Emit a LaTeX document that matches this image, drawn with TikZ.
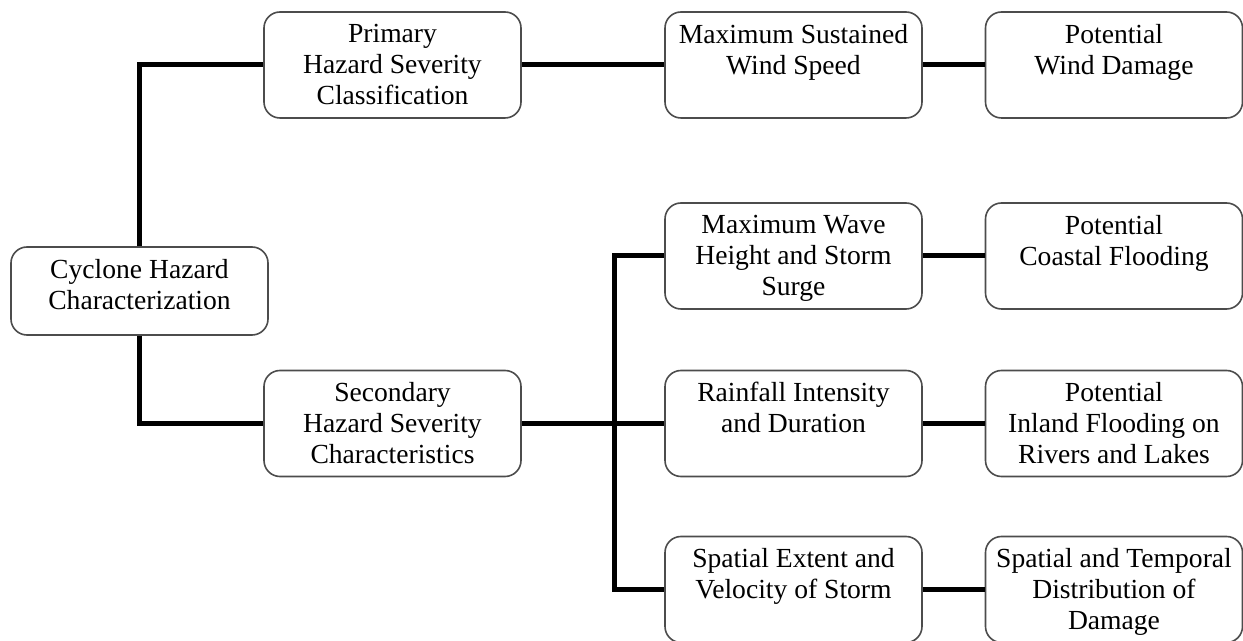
\documentclass[tikz,border=0pt]{standalone}
\usepackage{fontspec}
\setmainfont{Liberation Serif}
\newcommand{\boxtxt}[2][53pt]{\parbox[c][#1][t]{128.5pt}{\centering\vspace*{6pt}#2}}

\begin{document}
\begin{tikzpicture}[x=0.5pt,y=-0.5pt,
    font=\fontsize{13.8}{15.5}\selectfont,
    hbox/.style={draw=black!70, line width=0.8pt, rounded corners=8pt, fill=white, inner sep=0pt},
    link/.style={black, line width=2.5pt}]
                \useasboundingbox (0,0) rectangle (1243,641);
                % Root
                \node [hbox] (cyc) at (139.5,291) {\boxtxt[44pt]{Cyclone Hazard\\Characterization}};
                % Primary branch
                \node [hbox] (prim) at (392.5,65) {\boxtxt{Primary\\Hazard Severity\\Classification}};
                \node [hbox] (wspeed) at (793.5,65) {\boxtxt{Maximum Sustained\\Wind Speed}};
                \node [hbox] (wdamage) at (1114,65) {\boxtxt{Potential\\Wind Damage}};
                % Secondary branch
                \node [hbox] (sec) at (392.5,423.5) {\boxtxt{Secondary\\Hazard Severity\\Characteristics}};
                \node [hbox] (wave) at (793.5,256) {\boxtxt{Maximum Wave\\Height and Storm\\Surge}};
                \node [hbox] (coastal) at (1114,256) {\boxtxt{Potential\\Coastal Flooding}};
                \node [hbox] (rain) at (793.5,423.5) {\boxtxt{Rainfall Intensity\\and Duration}};
                \node [hbox] (inland) at (1114,423.5) {\boxtxt{Potential\\Inland Flooding on\\Rivers and Lakes}};
                \node [hbox] (extent) at (793.5,589.5) {\boxtxt{Spatial Extent and\\Velocity of Storm}};
                \node [hbox] (distr) at (1114,589.5) {\boxtxt{Spatial and Temporal\\Distribution of\\Damage}};
                \coordinate (bus) at (614,0);
                % Connectors
                \draw [link] (cyc.north) |- (prim.west);
                \draw [link] (cyc.south) |- (sec.west);
                \draw [link] (prim.east) -- (wspeed.west);
                \draw [link] (wspeed.east) -- (wdamage.west);
                \draw [link] (sec.east) -- (rain.west);
                \draw [link] (wave.west) -| (bus |- extent.west) -- (extent.west);
                \draw [link] (wave.east) -- (coastal.west);
                \draw [link] (rain.east) -- (inland.west);
                \draw [link] (extent.east) -- (distr.west);
            \end{tikzpicture}
\end{document}
